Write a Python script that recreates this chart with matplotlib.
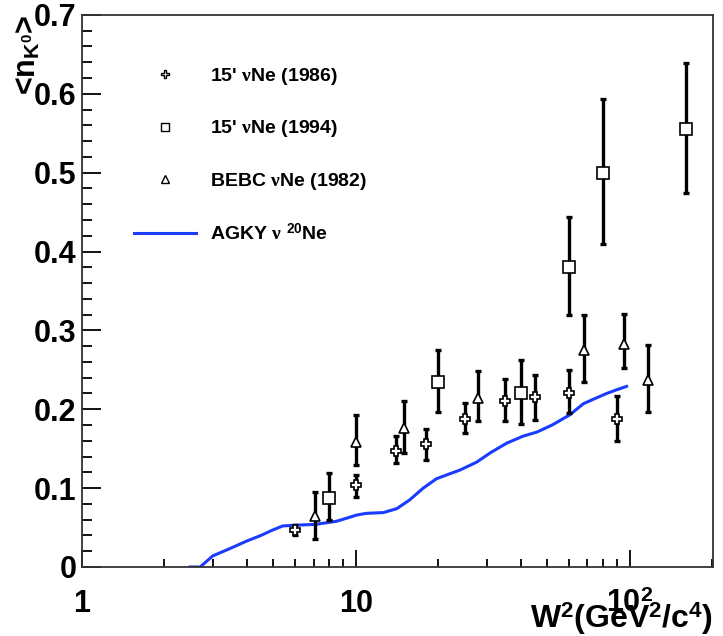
import matplotlib
matplotlib.use("Agg")
import matplotlib.pyplot as plt
from matplotlib.ticker import FixedLocator, FixedFormatter, NullFormatter, MultipleLocator

plt.rcParams['font.family'] = ['Liberation Sans', 'DejaVu Sans']
plt.rcParams['font.weight'] = 'bold'
plt.rcParams['axes.labelweight'] = 'bold'
plt.rcParams['mathtext.fontset'] = 'custom'
plt.rcParams['mathtext.rm'] = 'Liberation Sans:bold'
plt.rcParams['mathtext.bf'] = 'Liberation Sans:bold'
plt.rcParams['mathtext.it'] = 'Liberation Serif'

# 15' nu Ne (1986)
w2_1986 = [6, 10, 14, 18, 25, 35, 45, 60, 90]
n_1986 = [0.047, 0.104, 0.147, 0.156, 0.188, 0.210, 0.216, 0.220, 0.188]
lo_1986 = [0.006, 0.015, 0.015, 0.020, 0.018, 0.025, 0.029, 0.025, 0.028]
hi_1986 = [0.006, 0.013, 0.019, 0.019, 0.020, 0.028, 0.028, 0.030, 0.029]

# 15' nu Ne (1994)
w2_1994 = [8, 20, 40, 60, 80, 160]
n_1994 = [0.088, 0.234, 0.220, 0.381, 0.500, 0.556]
lo_1994 = [0.029, 0.038, 0.039, 0.062, 0.091, 0.082]
hi_1994 = [0.031, 0.041, 0.042, 0.063, 0.093, 0.083]

# BEBC nu Ne (1982)
w2_1982 = [7.1, 10, 15, 28, 68, 95, 116]
n_1982 = [0.065, 0.159, 0.176, 0.214, 0.275, 0.283, 0.237]
lo_1982 = [0.029, 0.030, 0.031, 0.029, 0.041, 0.031, 0.041]
hi_1982 = [0.030, 0.034, 0.035, 0.034, 0.044, 0.038, 0.044]

# AGKY nu 20Ne model curve
w2_agky = [2.48, 2.7, 3.0, 3.5, 4.0, 4.5, 4.9, 5.4, 6.0, 7.1, 8.5, 10.1, 10.9, 12.6,
           14.1, 15.7, 17.6, 19.7, 24.0, 27.6, 31.0, 35.5, 40.8, 45.7, 52.0, 60.4,
           67.6, 75.0, 82.2, 90.0, 97.2]
n_agky = [0.0, 0.0, 0.014, 0.024, 0.033, 0.040, 0.046, 0.052, 0.053, 0.054, 0.058,
          0.066, 0.068, 0.069, 0.074, 0.085, 0.100, 0.112, 0.123, 0.133, 0.145,
          0.157, 0.166, 0.171, 0.180, 0.193, 0.207, 0.214, 0.220, 0.225, 0.229]

x_ticks = [1, 10, 100]
x_tick_labels = ['1', '10', r'10$^{2}$']

fig = plt.figure(figsize=(7.23, 6.36), dpi=100)
ax = fig.add_axes([0.1134, 0.1085, 0.8727, 0.868])

blue = '#1a3cff'
ax.plot(w2_agky, n_agky, color=blue, lw=2.2, zorder=2)

series = [
    (w2_1986, n_1986, lo_1986, hi_1986, 'P', 7.5, "15' $\\nu$Ne (1986)"),
    (w2_1994, n_1994, lo_1994, hi_1994, 's', 8, "15' $\\nu$Ne (1994)"),
    (w2_1982, n_1982, lo_1982, hi_1982, '^', 7.5, "BEBC $\\nu$Ne (1982)"),
]
handles = []
for x, y, lo, hi, mk, ms, lab in series:
    ax.errorbar(x, y, yerr=[lo, hi], fmt='none', ecolor='black', elinewidth=2.4,
                capsize=2.5, capthick=2.4, zorder=3)
    ax.plot(x, y, ls='none', marker=mk, ms=ms, mfc='white', mec='black',
            mew=1.2, zorder=4)
    h, = ax.plot([], [], ls='none', marker=mk, ms=ms * 0.8, mfc='white', mec='black',
                 mew=1.0, label=lab)
    handles.append(h)
line_h, = ax.plot([], [], color=blue, lw=2.2, label="AGKY $\\nu$ $^{20}$Ne")
handles.append(line_h)

ax.set_xscale('log')
ax.set_xlim(1, 201)
ax.set_ylim(0, 0.7)

ax.xaxis.set_major_locator(FixedLocator(x_ticks))
ax.xaxis.set_major_formatter(FixedFormatter(x_tick_labels))
ax.xaxis.set_minor_formatter(NullFormatter())
ax.yaxis.set_major_locator(MultipleLocator(0.1))
ax.yaxis.set_minor_locator(MultipleLocator(0.02))
ax.yaxis.set_major_formatter(plt.FuncFormatter(lambda v, p: f'{v:.1f}'.replace('0.0', '0')))

ax.tick_params(which='both', direction='in', top=False, right=False, width=1.3)
ax.tick_params(axis='y', which='major', length=14, pad=4, labelsize=22)
ax.tick_params(axis='y', which='minor', length=7)
ax.tick_params(axis='x', which='major', length=12, pad=16, labelsize=22)
ax.tick_params(axis='x', which='minor', length=6)
for s in ax.spines.values():
    s.set_linewidth(1.3)
    s.set_color('#333333')

ax.set_xlabel(r'W$^{2}$(GeV$^{2}$/c$^{4}$)', fontsize=23, loc='right')
ax.xaxis.set_label_coords(1.0, -0.06)
ax.set_ylabel(r'<n$_{\mathrm{K}^{0}}$>', fontsize=22, loc='top')
ax.yaxis.set_label_coords(-0.062, 1.0)

ax.legend(handles=handles, loc='upper left', bbox_to_anchor=(0.082, 0.907),
          frameon=False, fontsize=14, labelspacing=1.6, handlelength=3.2,
          handletextpad=0.72, borderpad=0, borderaxespad=0)

fig.savefig('out.png', dpi=100)
